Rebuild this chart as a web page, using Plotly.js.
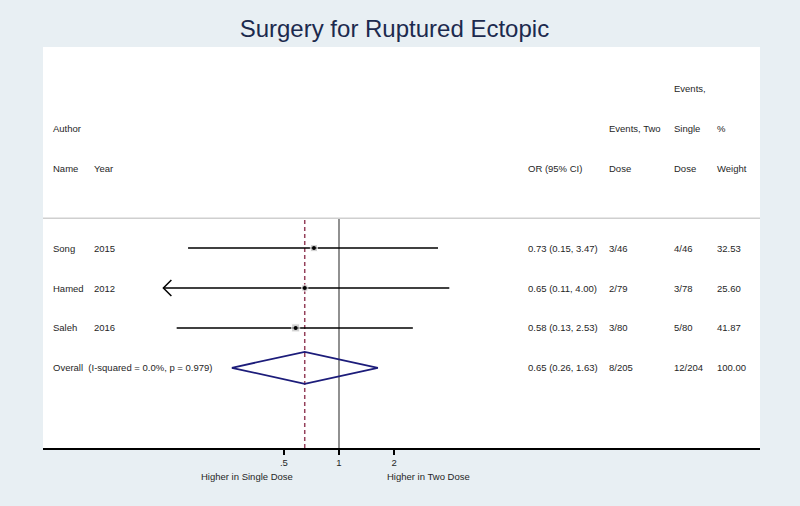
<!DOCTYPE html>
<html>
<head>
<meta charset="utf-8">
<script src="https://cdn.plot.ly/plotly-3.0.1.min.js"></script>
<style>
  html, body { margin: 0; padding: 0; background: #e8eff3; }
  #plot { width: 800px; height: 506px; }
</style>
</head>
<body>
<div id="plot"></div>
<script>
// Study data
var authors = ['Song', 'Hamed', 'Saleh'];
var years = ['2015', '2012', '2016'];
var orEst = [0.73, 0.65, 0.58];
var orLow = [0.15, 0.11, 0.13];
var orHigh = [3.47, 4.00, 2.53];
var eventsTwo = ['3/46', '2/79', '3/80'];
var eventsSingle = ['4/46', '3/78', '5/80'];
var weights = [32.53, 25.60, 41.87];
var arrowLeft = [false, true, false];

// Pooled estimate
var overallLabel = 'Overall  (I-squared = 0.0%, p = 0.979)';
var overallEst = 0.65;
var overallLow = 0.26;
var overallHigh = 1.63;
var overallTwo = '8/205';
var overallSingle = '12/204';
var overallWeight = '100.00';

// Axis ticks
var tickVals = [0.5, 1, 2];
var tickText = ['.5', '1', '2'];

var font = 'Liberation Sans, Arial, sans-serif';
var textColor = '#262626';

// rows: studies from the top, overall at the bottom
var rows = authors.map(function (a, i) { return authors.length + 1 - i; });
var overallRow = 1;
var sepRow = 4.75;
var yRange = [-1.01, 9.04];
var pxPerDecade = 183.2;

var traces = [];

// null line and pooled-estimate line
traces.push({
    x: [1, 1], y: [yRange[0], sepRow], mode: 'lines', type: 'scatter',
    line: { color: '#555555', width: 1.3 }, hoverinfo: 'skip'
});
traces.push({
    x: [overallEst, overallEst], y: [yRange[0], sepRow], mode: 'lines', type: 'scatter',
    line: { color: '#94405a', width: 1.5, dash: '4px,3px' }, hoverinfo: 'skip'
});

// confidence interval lines
authors.forEach(function (a, i) {
    traces.push({
        x: [orLow[i], orHigh[i]],
        y: [rows[i], rows[i]],
        mode: 'lines',
        type: 'scatter',
        line: { color: '#000000', width: 1.5 },
        hoverinfo: 'skip'
    });
    // arrow head for a truncated interval
    if (arrowLeft[i]) {
        var f = Math.pow(10, 8 / pxPerDecade);
        traces.push({
            x: [orLow[i] * f, orLow[i], orLow[i] * f],
            y: [rows[i] + 0.2, rows[i], rows[i] - 0.2],
            mode: 'lines',
            type: 'scatter',
            line: { color: '#000000', width: 1.5 },
            hoverinfo: 'skip'
        });
    }
});

// weight boxes
traces.push({
    x: orEst,
    y: rows,
    mode: 'markers',
    type: 'scatter',
    marker: {
        symbol: 'square',
        color: '#bdbdbd',
        size: weights.map(function (w) { return Math.sqrt(w) * 1.25; })
    },
    hoverinfo: 'skip'
});

// point estimates
traces.push({
    x: orEst,
    y: rows,
    mode: 'markers',
    type: 'scatter',
    marker: { symbol: 'circle', color: '#000000', size: 4 },
    hoverinfo: 'skip'
});

// overall diamond
traces.push({
    x: [overallLow, overallEst, overallHigh, overallEst, overallLow],
    y: [overallRow, overallRow + 0.4, overallRow, overallRow - 0.4, overallRow],
    mode: 'lines',
    type: 'scatter',
    line: { color: '#1c1c7a', width: 1.8 },
    hoverinfo: 'skip'
});

// text columns (paper x positions)
var colX = { author: 51, year: 92, or: 526, two: 607, single: 672, weight: 715 };
var plotLeft = 43, plotRight = 760;
function px(p) { return (p - plotLeft) / (plotRight - plotLeft); }

var annotations = [];
function addText(t, xpx, y) {
    annotations.push({
        text: t, x: px(xpx), y: y, xref: 'paper', yref: 'y',
        xanchor: 'left', yanchor: 'middle', showarrow: false,
        font: { family: font, size: 9.5, color: textColor }
    });
}

// header
addText('Events,', colX.single, 8);
addText('Author', colX.author, 7);
addText('Events, Two', colX.two, 7);
addText('Single', colX.single, 7);
addText('%', colX.weight, 7);
addText('Name', colX.author, 6);
addText('Year', colX.year, 6);
addText('OR (95% CI)', colX.or, 6);
addText('Dose', colX.two, 6);
addText('Dose', colX.single, 6);
addText('Weight', colX.weight, 6);

// study rows
authors.forEach(function (a, i) {
    addText(a, colX.author, rows[i]);
    addText(years[i], colX.year, rows[i]);
    addText(orEst[i].toFixed(2) + ' (' + orLow[i].toFixed(2) + ', ' + orHigh[i].toFixed(2) + ')', colX.or, rows[i]);
    addText(eventsTwo[i], colX.two, rows[i]);
    addText(eventsSingle[i], colX.single, rows[i]);
    addText(weights[i].toFixed(2), colX.weight, rows[i]);
});

// overall row
addText(overallLabel, colX.author, overallRow);
addText(overallEst.toFixed(2) + ' (' + overallLow.toFixed(2) + ', ' + overallHigh.toFixed(2) + ')', colX.or, overallRow);
addText(overallTwo, colX.two, overallRow);
addText(overallSingle, colX.single, overallRow);
addText(overallWeight, colX.weight, overallRow);

// favours labels under the axis
annotations.push({
    text: 'Higher in Single Dose', x: px(247), y: -0.07, xref: 'paper', yref: 'paper',
    xanchor: 'center', yanchor: 'middle', showarrow: false,
    font: { family: font, size: 9.5, color: textColor }
});
annotations.push({
    text: 'Higher in Two Dose', x: px(428), y: -0.07, xref: 'paper', yref: 'paper',
    xanchor: 'center', yanchor: 'middle', showarrow: false,
    font: { family: font, size: 9.5, color: textColor }
});

var shapes = [
    // header separator
    { type: 'line', xref: 'paper', yref: 'y', x0: 0, x1: 1, y0: sepRow, y1: sepRow,
      line: { color: '#cfcfcf', width: 1.5 } }
];

var layout = {
    width: 800,
    height: 506,
    margin: { l: plotLeft, r: 800 - plotRight, t: 47, b: 58 },
    paper_bgcolor: '#e8eff3',
    plot_bgcolor: '#ffffff',
    showlegend: false,
    title: {
        text: 'Surgery for Ruptured Ectopic',
        font: { family: font, size: 24, color: '#1c2a4e' },
        x: 0.493, xanchor: 'center', y: 0.943, yanchor: 'middle'
    },
    xaxis: {
        type: 'log',
        range: [(plotLeft - 339) / pxPerDecade, (plotRight - 339) / pxPerDecade],
        tickvals: tickVals,
        ticktext: tickText,
        ticks: 'outside',
        ticklen: 5,
        tickwidth: 1.5,
        tickcolor: '#000000',
        tickfont: { family: font, size: 9.5, color: textColor },
        showline: true,
        linecolor: '#000000',
        linewidth: 2,
        showgrid: false,
        zeroline: false,
        fixedrange: true
    },
    yaxis: {
        range: yRange,
        visible: false,
        showgrid: false,
        zeroline: false,
        fixedrange: true
    },
    annotations: annotations,
    shapes: shapes
};

Plotly.newPlot('plot', traces, layout, { displayModeBar: false, staticPlot: true });
</script>
</body>
</html>
